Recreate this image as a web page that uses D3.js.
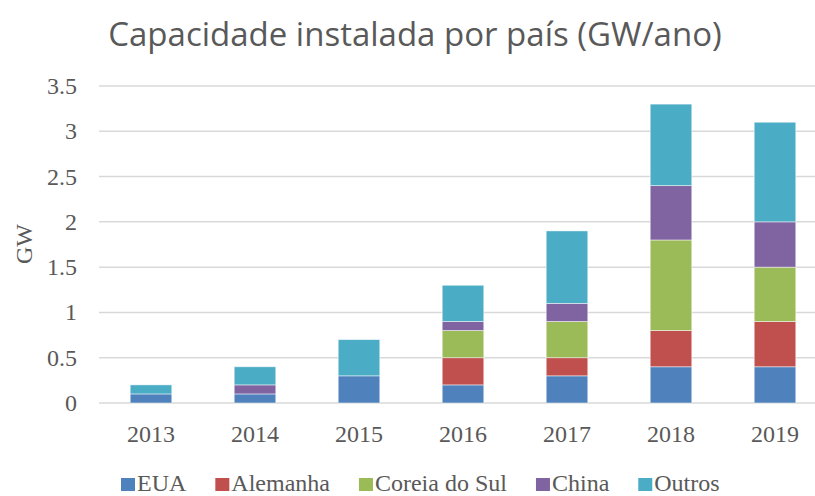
<!DOCTYPE html>
<html>
<head>
<meta charset="utf-8">
<script src="https://cdn.jsdelivr.net/npm/d3@7"></script>
<style>
body { margin: 0; background: #fff; }
svg { display: block; }
</style>
</head>
<body>
<svg width="815" height="496"></svg>
<script>
var years = ["2013", "2014", "2015", "2016", "2017", "2018", "2019"];
var seriesNames = ["EUA", "Alemanha", "Coreia do Sul", "China", "Outros"];
var eua      = [0.1, 0.1, 0.3, 0.2, 0.3, 0.4, 0.4];
var alemanha = [0,   0,   0,   0.3, 0.2, 0.4, 0.5];
var coreia   = [0,   0,   0,   0.3, 0.4, 1.0, 0.6];
var china    = [0,   0.1, 0,   0.1, 0.2, 0.6, 0.5];
var outros   = [0.1, 0.2, 0.4, 0.4, 0.8, 0.9, 1.1];
var yTicks = [0, 0.5, 1, 1.5, 2, 2.5, 3, 3.5];
var tickLabels = ["0", "0.5", "1", "1.5", "2", "2.5", "3", "3.5"];
var colors = ["#4F81BD", "#C0504D", "#9BBB59", "#8064A2", "#4BACC6"];

var svg = d3.select("svg");
var serif = "'Liberation Serif', 'DejaVu Serif', serif";

// build rows for stacking
var rows = years.map(function(y, i) {
    return {year: y, "EUA": eua[i], "Alemanha": alemanha[i], "Coreia do Sul": coreia[i], "China": china[i], "Outros": outros[i]};
});
var stacked = d3.stack().keys(seriesNames)(rows);

var x = d3.scaleBand().domain(years).range([99, 827]).padding(0);
var y = d3.scaleLinear().domain([0, 3.5]).range([403, 86]);
var barW = x.bandwidth() * 0.4;

// gridlines
svg.append("g").selectAll("line")
    .data(yTicks)
    .enter().append("line")
    .attr("x1", 99).attr("x2", 815)
    .attr("y1", function(d) { return y(d); })
    .attr("y2", function(d) { return y(d); })
    .attr("stroke", "#d9d9d9")
    .attr("stroke-width", 1.5);

// y tick labels
svg.append("g").selectAll("text")
    .data(yTicks)
    .enter().append("text")
    .attr("x", 77)
    .attr("y", function(d) { return y(d) + 8; })
    .attr("text-anchor", "end")
    .attr("font-family", serif)
    .attr("font-size", 24)
    .attr("fill", "#595959")
    .text(function(d, i) { return tickLabels[i]; });

// bars
var layer = svg.append("g").selectAll("g")
    .data(stacked)
    .enter().append("g")
    .attr("fill", function(d, i) { return colors[i]; });

layer.selectAll("rect")
    .data(function(d) { return d; })
    .enter().append("rect")
    .filter(function(d) { return d[1] - d[0] > 0; })
    .attr("x", function(d) { return x(d.data.year) + (x.bandwidth() - barW) / 2; })
    .attr("y", function(d) { return y(d[1]); })
    .attr("width", barW)
    .attr("height", function(d) { return y(d[0]) - y(d[1]); })
    .attr("stroke", "#ffffff")
    .attr("stroke-opacity", 0.6)
    .attr("stroke-width", 0.8);

// x labels
svg.append("g").selectAll("text")
    .data(years)
    .enter().append("text")
    .attr("x", function(d) { return x(d) + x.bandwidth() / 2; })
    .attr("y", 442)
    .attr("text-anchor", "middle")
    .attr("font-family", serif)
    .attr("font-size", 24)
    .attr("fill", "#595959")
    .text(function(d) { return d; });

// y axis title
svg.append("text")
    .attr("transform", "translate(32,244) rotate(-90)")
    .attr("text-anchor", "middle")
    .attr("font-family", serif)
    .attr("font-size", 24)
    .attr("fill", "#595959")
    .text("GW");

// title
svg.append("text")
    .attr("x", 415)
    .attr("y", 46)
    .attr("text-anchor", "middle")
    .attr("font-family", "'Open Sans', 'Noto Sans', sans-serif")
    .attr("font-size", 33)
    .attr("fill", "#595959")
    .text("Capacidade instalada por país (GW/ano)");

// legend
var legend = svg.append("g");
var lx = 121;
seriesNames.forEach(function(name, i) {
    legend.append("rect")
        .attr("x", lx).attr("y", 478)
        .attr("width", 14).attr("height", 13)
        .attr("fill", colors[i]);
    var t = legend.append("text")
        .attr("x", lx + 16).attr("y", 491)
        .attr("font-family", serif)
        .attr("font-size", 24)
        .attr("fill", "#595959")
        .text(name);
    lx += 16 + t.node().getComputedTextLength() + 29;
});
</script>
</body>
</html>
